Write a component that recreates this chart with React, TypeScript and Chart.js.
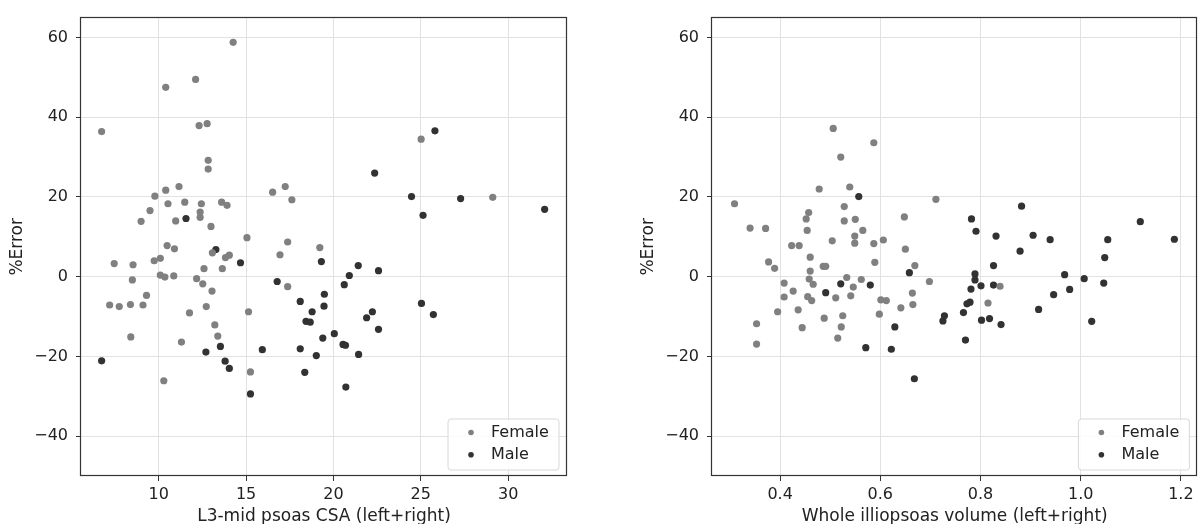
import React, { useEffect, useRef } from "react";
import { Chart, registerables } from "chart.js";

Chart.register(...registerables);

// ---- tick values ----
const yTicks = [-40, -20, 0, 20, 40, 60];
const csaTicks = [10, 15, 20, 25, 30];
const volTicks = [0.4, 0.6, 0.8, 1.0, 1.2];
const seriesLabels = ["Female", "Male"];
const yTitle = "%Error";
const csaTitle = "L3-mid psoas CSA (left+right)";
const volTitle = "Whole illiopsoas volume (left+right)";

// ---- left panel: L3-mid psoas CSA ----
const femaleCsa = [14.26, 12.11, 10.40, 6.73, 12.31, 12.77, 12.83, 12.83, 25.02, 11.16, 10.40, 9.78, 16.52, 17.24, 17.62, 29.12, 10.53, 11.49, 12.44, 13.60, 13.91, 9.50, 12.37, 12.37, 8.99, 10.97, 12.99, 15.05, 10.48, 10.90, 17.38, 19.22, 16.94, 13.07, 13.82, 14.04, 9.74, 10.09, 7.45, 8.53, 12.59, 13.64, 10.09, 10.35, 10.86, 12.17, 8.49, 12.52, 17.38, 13.05, 9.30, 7.19, 7.74, 8.38, 9.10, 12.72, 11.76, 15.14, 13.21, 13.38, 8.40, 11.30, 15.25, 10.29];
const femaleCsaErr = [58.8, 49.5, 47.5, 36.4, 37.9, 38.4, 29.2, 27.0, 34.5, 22.6, 21.7, 20.2, 21.2, 22.6, 19.3, 19.9, 18.3, 18.7, 18.3, 18.7, 17.9, 16.6, 16.2, 14.9, 13.9, 14.0, 12.6, 9.8, 7.8, 7.0, 8.7, 7.3, 5.5, 6.0, 4.8, 5.4, 4.0, 4.6, 3.3, 3.0, 2.0, 2.0, 0.4, -0.1, 0.2, -0.5, -0.8, -1.8, -2.5, -3.6, -4.7, -7.1, -7.5, -7.0, -7.1, -7.5, -9.1, -8.8, -12.1, -14.9, -15.1, -16.4, -23.9, -26.1];
const maleCsa = [6.73, 11.56, 13.27, 14.68, 16.78, 12.70, 13.53, 13.80, 14.04, 15.93, 15.25, 18.10, 18.78, 18.43, 18.67, 18.10, 18.36, 19.02, 19.31, 19.48, 19.46, 19.39, 20.05, 20.55, 20.69, 20.71, 20.62, 20.91, 21.42, 21.44, 21.90, 22.23, 22.58, 22.58, 22.36, 24.47, 25.13, 25.81, 27.28, 32.09, 25.04, 25.72];
const maleCsaErr = [-21.1, 14.6, 6.8, 3.5, -1.2, -18.9, -17.5, -21.2, -23.0, -18.3, -29.4, -6.2, -8.8, -11.2, -11.4, -18.1, -24.0, -19.8, 3.8, -4.4, -7.4, -15.4, -14.3, -17.0, -17.2, -27.7, -2.0, 0.3, 2.8, -19.5, -10.3, -8.8, -13.2, 1.5, 26.0, 20.1, 15.4, 36.6, 19.6, 16.9, -6.7, -9.5];

// ---- right panel: whole illiopsoas volume ----
const femaleVol = [0.309, 0.340, 0.371, 0.377, 0.389, 0.353, 0.353, 0.395, 0.408, 0.408, 0.426, 0.423, 0.438, 0.436, 0.444, 0.452, 0.457, 0.454, 0.460, 0.460, 0.458, 0.466, 0.455, 0.463, 0.478, 0.486, 0.491, 0.488, 0.504, 0.506, 0.511, 0.515, 0.521, 0.522, 0.525, 0.528, 0.528, 0.533, 0.539, 0.541, 0.546, 0.549, 0.550, 0.549, 0.562, 0.565, 0.587, 0.587, 0.589, 0.598, 0.601, 0.606, 0.612, 0.641, 0.648, 0.650, 0.664, 0.665, 0.669, 0.698, 0.711, 0.815, 0.839];
const femaleVolErr = [18.3, 12.2, 12.1, 3.7, 2.1, -11.8, -16.9, -8.8, -1.6, -5.1, -3.6, 7.8, 7.8, -8.3, -12.8, 14.5, 16.1, 11.6, 4.9, 1.4, -0.6, -1.9, -5.0, -6.0, 22.0, 2.6, 2.6, -10.4, 9.0, 37.2, -5.3, -15.4, 30.0, -12.6, -9.8, 17.6, 14.0, -0.2, 22.5, -4.8, -2.6, 10.2, 14.4, 8.4, -0.7, 11.6, 33.6, 8.3, 3.6, -9.4, -5.8, 9.2, -6.0, -7.8, 15.0, 6.9, -4.1, -7.0, 2.8, -1.2, 19.4, -6.6, -2.4];
const maleVol = [0.557, 0.521, 0.491, 0.580, 0.571, 0.622, 0.629, 0.658, 0.668, 0.725, 0.728, 0.766, 0.770, 0.773, 0.779, 0.781, 0.782, 0.791, 0.789, 0.789, 0.801, 0.802, 0.818, 0.826, 0.826, 0.831, 0.841, 0.879, 0.882, 0.905, 0.916, 0.939, 0.946, 0.968, 0.978, 1.007, 1.022, 1.046, 1.048, 1.054, 1.119, 1.187];
const maleVolErr = [20.1, -1.8, -4.0, -2.1, -17.8, -18.2, -12.6, 1.0, -25.6, -11.1, -9.8, -9.0, -15.9, -6.8, -6.4, -3.1, 14.5, 11.4, 0.7, -0.8, -2.3, -10.9, -10.5, 2.8, -2.1, 10.2, -12.0, 6.4, 17.7, 10.4, -8.2, 9.3, -4.5, 0.5, -3.2, -0.5, -11.2, -1.6, 4.8, 9.3, 13.8, 9.4];

const FEMALE_COLOR = "rgb(128,128,128)";
const MALE_COLOR = "rgb(50,50,50)";
const TEXT_COLOR = "#222222";
const FONT = "'DejaVu Sans', sans-serif";

const pairs = (xs: number[], ys: number[]) => xs.map((x, i) => ({ x, y: ys[i] }));

const frameLegendPlugin = {
  id: "frameLegend",
  afterDatasetsDraw(chart: any) {
    const { ctx, chartArea: a } = chart;
    ctx.save();
    // legend box (bottom-right, inside the axes)
    const w = 111;
    const h = 51;
    const bx = a.right - 8 - w;
    const by = a.bottom - 6 - h;
    const r = 3;
    ctx.beginPath();
    ctx.moveTo(bx + r, by);
    ctx.lineTo(bx + w - r, by);
    ctx.arcTo(bx + w, by, bx + w, by + r, r);
    ctx.lineTo(bx + w, by + h - r);
    ctx.arcTo(bx + w, by + h, bx + w - r, by + h, r);
    ctx.lineTo(bx + r, by + h);
    ctx.arcTo(bx, by + h, bx, by + h - r, r);
    ctx.lineTo(bx, by + r);
    ctx.arcTo(bx, by, bx + r, by, r);
    ctx.closePath();
    ctx.fillStyle = "rgba(255,255,255,0.85)";
    ctx.fill();
    ctx.strokeStyle = "#d8d8d8";
    ctx.lineWidth = 1;
    ctx.stroke();
    chart.data.datasets.forEach((ds: any, i: number) => {
      const cy = by + 13.5 + i * 22.3;
      ctx.beginPath();
      ctx.fillStyle = ds.backgroundColor;
      ctx.arc(bx + 23, cy, 2.8, 0, Math.PI * 2);
      ctx.fill();
      ctx.fillStyle = TEXT_COLOR;
      ctx.font = `16px ${FONT}`;
      ctx.textBaseline = "middle";
      ctx.textAlign = "left";
      ctx.fillText(ds.label, bx + 43, cy + 0.5);
    });
    // axes frame
    ctx.strokeStyle = "#333333";
    ctx.lineWidth = 1.2;
    ctx.strokeRect(
      Math.round(a.left) - 0.5,
      Math.round(a.top) - 0.5,
      Math.round(a.right) - Math.round(a.left),
      Math.round(a.bottom) - Math.round(a.top)
    );
    ctx.restore();
  },
};

type PanelProps = {
  female: { x: number; y: number }[];
  male: { x: number; y: number }[];
  xTicks: number[];
  xMin: number;
  xMax: number;
  xTitle: string;
  xFmt: (v: number) => string;
  padLeft: number;
  padRight: number;
  width: number;
};

function Panel(p: PanelProps) {
  const ref = useRef<HTMLCanvasElement | null>(null);
  useEffect(() => {
    if (!ref.current) return;
    const chart = new Chart(ref.current, {
      type: "scatter",
      data: {
        datasets: [
          {
            label: seriesLabels[0],
            data: p.female,
            backgroundColor: FEMALE_COLOR,
            borderWidth: 0,
            pointRadius: 3.6,
            pointHoverRadius: 3.6,
          },
          {
            label: seriesLabels[1],
            data: p.male,
            backgroundColor: MALE_COLOR,
            borderWidth: 0,
            pointRadius: 3.6,
            pointHoverRadius: 3.6,
          },
        ],
      },
      options: {
        animation: false,
        responsive: false,
        devicePixelRatio: 1,
        layout: { padding: { left: p.padLeft, right: p.padRight, top: 12, bottom: 0 } },
        plugins: { legend: { display: false }, tooltip: { enabled: false } },
        scales: {
          x: {
            type: "linear",
            min: p.xMin,
            max: p.xMax,
            afterBuildTicks: (s: any) => {
              s.ticks = p.xTicks.map((v) => ({ value: v }));
            },
            afterFit: (s: any) => {
              s.height = 48;
            },
            border: { display: false },
            grid: {
              color: "#e2e2e2",
              lineWidth: 1,
              drawTicks: true,
              tickLength: 5,
              tickColor: "#333333",
              tickWidth: 1,
            },
            ticks: {
              padding: 4,
              color: TEXT_COLOR,
              font: { family: FONT, size: 16 },
              maxRotation: 0,
              callback: (v: any) => p.xFmt(Number(v)),
            },
            title: {
              display: true,
              text: p.xTitle,
              color: TEXT_COLOR,
              font: { family: FONT, size: 17 },
              padding: { top: 0, bottom: -3 },
            },
          },
          y: {
            type: "linear",
            min: -50,
            max: 65,
            afterBuildTicks: (s: any) => {
              s.ticks = yTicks.map((v) => ({ value: v }));
            },
            afterFit: (s: any) => {
              s.width = 81;
            },
            border: { display: false },
            grid: {
              color: "#e2e2e2",
              lineWidth: 1,
              drawTicks: true,
              tickLength: 5,
              tickColor: "#333333",
              tickWidth: 1,
            },
            ticks: {
              padding: 8,
              color: TEXT_COLOR,
              font: { family: FONT, size: 16 },
              callback: (v: any) => String(v).replace("-", "\u2212"),
            },
            title: {
              display: true,
              text: yTitle,
              color: TEXT_COLOR,
              font: { family: FONT, size: 17 },
              padding: { top: 7, bottom: 0 },
            },
          },
        },
      },
      plugins: [frameLegendPlugin],
    } as any);
    return () => chart.destroy();
  }, []);
  return <canvas ref={ref} width={p.width} height={524} style={{ display: "block" }} />;
}

export default function App() {
  return (
    <div
      style={{
        position: "fixed",
        left: 0,
        top: 0,
        width: 1201,
        height: 524,
        background: "#ffffff",
        overflow: "hidden",
      }}
    >
      <div style={{ position: "absolute", left: 0, top: 0, width: 600, height: 524 }}>
        <Panel
          female={pairs(femaleCsa, femaleCsaErr)}
          male={pairs(maleCsa, maleCsaErr)}
          xTicks={csaTicks}
          xMin={5.55}
          xMax={33.37}
          xTitle={csaTitle}
          xFmt={(v) => String(v)}
          padLeft={0}
          padRight={33}
          width={600}
        />
      </div>
      <div style={{ position: "absolute", left: 600, top: 0, width: 601, height: 524 }}>
        <Panel
          female={pairs(femaleVol, femaleVolErr)}
          male={pairs(maleVol, maleVolErr)}
          xTicks={volTicks}
          xMin={0.264}
          xMax={1.233}
          xTitle={volTitle}
          xFmt={(v) => v.toFixed(1)}
          padLeft={31}
          padRight={3}
          width={601}
        />
      </div>
    </div>
  );
}
